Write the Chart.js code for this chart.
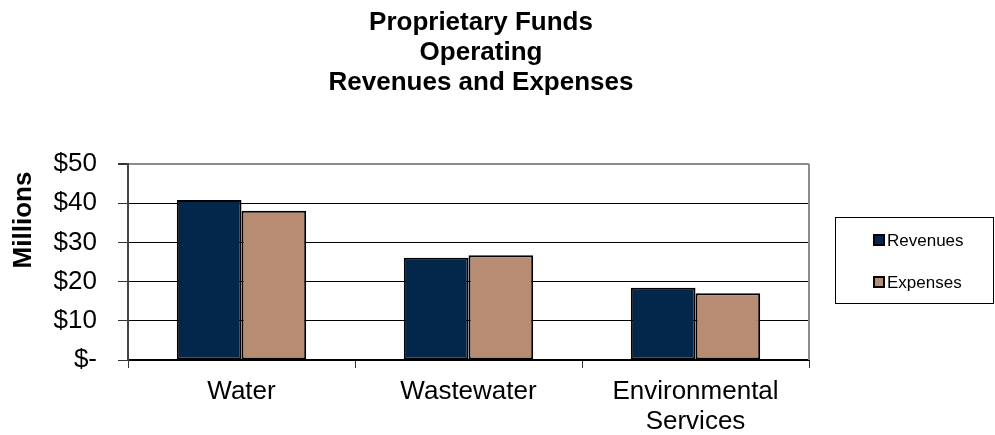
<!DOCTYPE html>
<html>
<head>
<meta charset="utf-8">
<script src="https://cdn.jsdelivr.net/npm/chart.js@4/dist/chart.umd.min.js"></script>
<style>
  html, body { margin: 0; padding: 0; background: #fff; }
</style>
</head>
<body>
<canvas id="funds" width="995" height="435"></canvas>
<script>
const categories = ['Water', 'Wastewater', ['Environmental', 'Services']]
const revenues = [40.8, 26.1, 18.4]
const expenses = [38.1, 26.7, 17.0]
const seriesNames = ['Revenues', 'Expenses']
const yTicks = [0, 10, 20, 30, 40, 50]
const titleLines = ['Proprietary Funds', 'Operating', 'Revenues and Expenses']
const yAxisTitle = 'Millions'

const FONT = '"Liberation Sans", Arial, sans-serif'
const NAVY = '#03274a'
const TAN = '#b88c72'

// title, y axis caption, right border and boxed legend
const decorations = {
    id: 'decorations',
    afterDraw(chart) {
        const ctx = chart.ctx
        const area = chart.chartArea
        ctx.save()

        ctx.strokeStyle = '#8c8c8c'
        ctx.lineWidth = 2
        ctx.beginPath()
        ctx.moveTo(area.right, area.top)
        ctx.lineTo(area.right, area.bottom)
        ctx.stroke()

        ctx.fillStyle = '#000'
        ctx.font = 'bold 26px ' + FONT
        ctx.textAlign = 'center'
        ctx.textBaseline = 'alphabetic'
        titleLines.forEach((line, i) => ctx.fillText(line, 481, 30 + i * 30))

        ctx.save()
        ctx.translate(24, 220)
        ctx.rotate(-Math.PI / 2)
        ctx.textBaseline = 'middle'
        ctx.fillText(yAxisTitle, 0, 0)
        ctx.restore()

        ctx.strokeStyle = '#000'
        ctx.lineWidth = 1
        ctx.strokeRect(835.5, 217.5, 158, 86)

        ctx.font = '17px ' + FONT
        ctx.textAlign = 'left'
        ctx.textBaseline = 'middle'
        chart.data.datasets.forEach((ds, i) => {
            const y = 240 + i * 42
            ctx.fillStyle = ds.backgroundColor
            ctx.fillRect(874, y - 5, 10, 10)
            ctx.lineWidth = 2
            ctx.strokeRect(874, y - 5, 10, 10)
            ctx.fillStyle = '#000'
            ctx.fillText(ds.label, 887, y + 1)
        })
        ctx.restore()
    }
}

const chart = new Chart(document.getElementById('funds'), {
    type: 'bar',
    data: {
        labels: categories,
        datasets: [
            { label: seriesNames[0], data: revenues, backgroundColor: NAVY },
            { label: seriesNames[1], data: expenses, backgroundColor: TAN }
        ]
    },
    options: {
        responsive: false,
        animation: false,
        devicePixelRatio: 1,
        layout: { padding: { top: 164, right: 186, left: 0, bottom: 0 } },
        datasets: {
            bar: {
                borderColor: '#000',
                borderWidth: 2,
                borderSkipped: false,
                categoryPercentage: 0.57,
                barPercentage: 1.0
            }
        },
        plugins: {
            legend: { display: false },
            title: { display: false },
            tooltip: { enabled: false }
        },
        scales: {
            x: {
                afterFit(scale) { scale.height = 75 },
                grid: {
                    display: true,
                    drawOnChartArea: false,
                    offset: true,
                    tickLength: 8,
                    color: '#333'
                },
                border: { display: true, color: '#000', width: 2 },
                ticks: {
                    color: '#000',
                    padding: 9,
                    maxRotation: 0,
                    autoSkip: false,
                    font: { family: FONT, size: 26, lineHeight: 1.15 }
                }
            },
            y: {
                min: yTicks[0],
                max: yTicks[yTicks.length - 1],
                afterFit(scale) { scale.width = 128 },
                afterBuildTicks(scale) { scale.ticks = yTicks.map(v => ({ value: v })) },
                grid: {
                    color: (c) => c.tick && c.tick.value === yTicks[yTicks.length - 1] ? '#8c8c8c' : '#000',
                    lineWidth: (c) => c.tick && c.tick.value === yTicks[yTicks.length - 1] ? 2 : 1,
                    tickColor: '#333',
                    tickLength: 10
                },
                border: { display: true, color: '#444', width: 2 },
                ticks: {
                    color: '#000',
                    padding: 21,
                    font: { family: FONT, size: 26, lineHeight: 1.15 },
                    callback: (v) => v === 0 ? '$-' : '$' + v
                }
            }
        }
    },
    plugins: [decorations]
})
</script>
</body>
</html>
